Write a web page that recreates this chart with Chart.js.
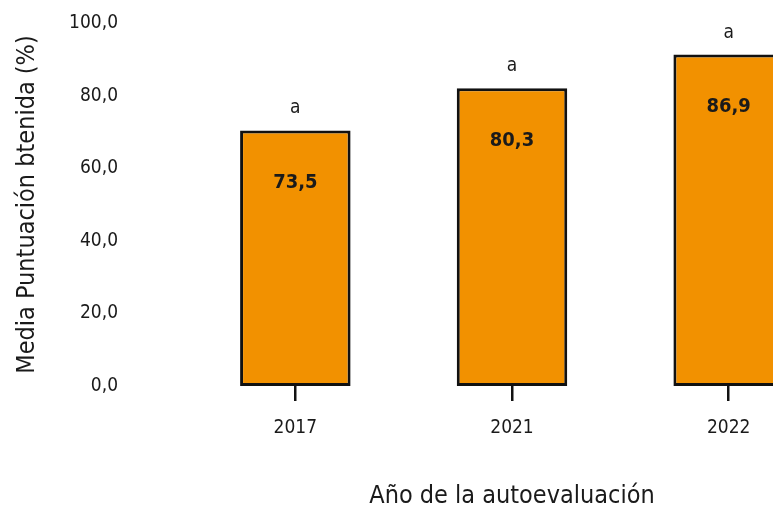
<!DOCTYPE html>
<html>
<head>
<meta charset="utf-8">
<script src="https://cdn.jsdelivr.net/npm/chart.js@4/dist/chart.umd.min.js"></script>
<style>
  html, body { margin: 0; padding: 0; background: #fff; overflow: hidden; }
  #wrap { position: relative; width: 850px; height: 511px; }
</style>
</head>
<body>
<div id="wrap"><canvas id="chart"></canvas></div>
<script>
const years = ['2017', '2021', '2022'];
const barHeights = [70.4, 82.0, 91.3];
const valueLabels = ['73,5', '80,3', '86,9'];
const groupLetters = ['a', 'a', 'a'];
const yTicks = [0, 20, 40, 60, 80, 100];

const FONT = "'DejaVu Sans Condensed', 'Liberation Sans Narrow', Roboto, sans-serif";
const INK = '#1a1a1a';

// letter above each bar, bold value inside it
const barLabels = {
  id: 'barLabels',
  afterDatasetsDraw(chart) {
    const ctx = chart.ctx;
    const meta = chart.getDatasetMeta(0);
    ctx.save();
    ctx.textAlign = 'center';
    ctx.textBaseline = 'middle';
    ctx.fillStyle = INK;
    meta.data.forEach((bar, i) => {
      ctx.font = `19px ${FONT}`;
      ctx.fillText(groupLetters[i], bar.x, bar.y - 22);
      ctx.font = `bold 20px ${FONT}`;
      ctx.fillText(valueLabels[i], bar.x, bar.y + 52);
    });
    ctx.restore();
  }
};

new Chart(document.getElementById('chart'), {
  type: 'bar',
  data: {
    labels: years,
    datasets: [{
      data: barHeights,
      backgroundColor: '#F29100',
      borderColor: '#111',
      borderWidth: 3,
      borderSkipped: false,
      categoryPercentage: 1,
      barPercentage: 0.51,
    }],
  },
  options: {
    responsive: true,
    maintainAspectRatio: false,
    animation: false,
    layout: { padding: { top: 23, right: 13, left: 0, bottom: 0 } },
    plugins: { legend: { display: false }, tooltip: { enabled: false } },
    scales: {
      x: {
        offset: true,
        border: { display: false },
        grid: { offset: false, drawOnChartArea: false, drawTicks: true, tickLength: 15, color: '#111', lineWidth: 2.5 },
        ticks: { color: INK, font: { family: FONT, size: 19 }, padding: 16 },
        title: { display: true, text: 'Año de la autoevaluación', color: INK, font: { family: FONT, size: 25, lineHeight: 1 }, padding: { top: 0, bottom: 2 } },
        afterFit(scale) { scale.height = 125; },
      },
      y: {
        min: 0,
        max: 100,
        border: { display: false },
        grid: { display: false, drawTicks: false },
        afterBuildTicks(scale) { scale.ticks = yTicks.map(v => ({ value: v })); },
        ticks: {
          color: INK,
          font: { family: FONT, size: 19 },
          padding: 69,
          callback: v => v.toFixed(1).replace('.', ','),
        },
        title: { display: true, text: 'Media Puntuación btenida (%)', color: INK, font: { family: FONT, size: 25, lineHeight: 1 }, padding: { top: 15, bottom: 0 } },
        afterFit(scale) {
          scale.width = 187;
          scale.paddingTop = 0;
          scale.paddingBottom = 0;
        },
      },
    },
  },
  plugins: [barLabels],
});
</script>
</body>
</html>
